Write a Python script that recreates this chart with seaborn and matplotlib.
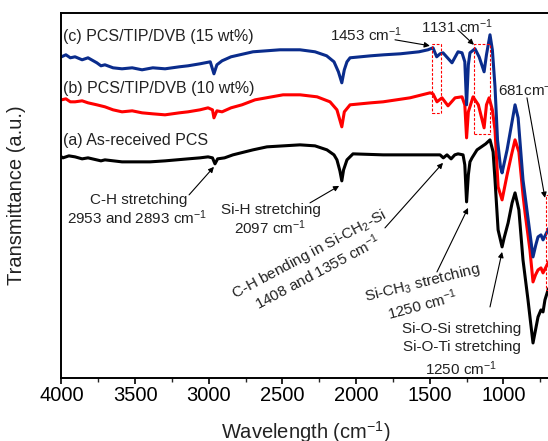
import numpy as np
import pandas as pd
import matplotlib
matplotlib.use("Agg")
import matplotlib.pyplot as plt
import seaborn as sns
from matplotlib.patches import Rectangle
from matplotlib.ticker import MultipleLocator

sns.set_style("ticks")
plt.rcParams['font.family'] = ['Liberation Sans', 'DejaVu Sans']
plt.rcParams['mathtext.fontset'] = 'custom'
plt.rcParams['mathtext.rm'] = 'Liberation Sans'
plt.rcParams['mathtext.it'] = 'Liberation Sans'

# (a) As-received PCS
wn_a = [4000, 3990, 3950, 3908, 3860, 3820, 3732, 3705, 3589, 3481, 3399, 3297, 3141, 3060, 3005,
        2975, 2958, 2940, 2893, 2836, 2700, 2605, 2381, 2279, 2198, 2150, 2130, 2110, 2097, 2085,
        2062, 2021, 1817, 1587, 1430, 1408, 1383, 1355, 1330, 1308, 1274, 1262, 1250, 1238, 1227,
        1213, 1179, 1120, 1091, 1070, 1057, 1036, 1009, 995, 968, 941, 921, 895, 867, 833, 815,
        799, 782, 765, 745, 731, 718, 697, 680]
tr_a = [44.2, 44.0, 44.4, 44.2, 43.8, 44.0, 43.4, 43.6, 43.2, 43.2, 43.2, 43.4, 43.8, 44.0, 44.2,
        44.0, 42.8, 43.8, 44.0, 44.6, 45.6, 46.2, 46.6, 46.4, 45.6, 44.6, 43.6, 41.4, 39.4, 41.6,
        43.6, 44.8, 44.6, 44.6, 44.6, 44.0, 44.6, 43.8, 44.6, 44.8, 44.6, 42.6, 35.2, 40.6, 43.2,
        44.0, 45.6, 46.8, 47.6, 45.2, 39.6, 29.6, 26.2, 28.0, 31.0, 35.0, 37.0, 33.6, 23.6, 15.6, 11.0,
        7.0, 9.6, 12.2, 13.6, 13.2, 15.6, 17.6, 18.6]

# (b) PCS/TIP/DVB (10 wt%)
wn_b = [4000, 3970, 3940, 3908, 3860, 3820, 3760, 3705, 3650, 3589, 3520, 3453, 3380, 3297, 3200,
        3141, 3060, 3005, 2975, 2965, 2945, 2910, 2849, 2775, 2686, 2496, 2380, 2265, 2177, 2130,
        2097, 2080, 2041, 1900, 1817, 1634, 1498, 1478, 1451, 1417, 1376, 1328, 1281, 1262, 1250,
        1238, 1206, 1170, 1131, 1115, 1097, 1075, 1057, 1036, 1009, 975, 945, 921, 895, 867, 853,
        820, 799, 782, 765, 745, 731, 697, 680]
tr_b = [55.6, 55.8, 55.2, 55.2, 55.4, 55.0, 54.6, 54.2, 53.6, 53.2, 53.4, 53.0, 52.8, 52.6, 53.0,
        53.2, 53.6, 54.0, 53.6, 52.0, 53.4, 53.2, 54.0, 54.6, 55.6, 56.6, 56.6, 56.2, 55.2, 53.6,
        50.2, 53.2, 54.6, 55.0, 55.2, 56.0, 57.0, 56.8, 55.2, 56.0, 54.4, 56.0, 56.2, 54.6, 48.0,
        53.2, 56.2, 54.6, 50.0, 54.6, 56.0, 53.6, 49.6, 38.2, 35.6, 40.6, 44.6, 47.6, 45.2, 36.6, 33.0,
        25.6, 19.2, 20.6, 21.6, 22.0, 21.0, 23.0, 24.0]

# (c) PCS/TIP/DVB (15 wt%)
wn_c = [4000, 3970, 3940, 3908, 3860, 3820, 3760, 3732, 3705, 3650, 3589, 3520, 3453, 3380, 3297,
        3200, 3141, 3060, 2990, 2965, 2945, 2910, 2849, 2700, 2517, 2381, 2279, 2200, 2150, 2120,
        2097, 2080, 2062, 2041, 1900, 1811, 1700, 1573, 1512, 1478, 1453, 1430, 1410, 1349, 1308,
        1281, 1262, 1250, 1238, 1227, 1193, 1165, 1131, 1115, 1091, 1075, 1057, 1040, 1020, 1009,
        975, 945, 921, 900, 867, 820, 799, 780, 765, 745, 731, 697, 680]
tr_c = [64.2, 64.6, 64.0, 64.2, 63.6, 64.0, 63.0, 62.4, 62.6, 62.0, 61.8, 62.0, 61.6, 62.0, 61.8,
        62.2, 62.4, 62.8, 63.2, 60.8, 62.6, 63.4, 64.2, 65.2, 65.6, 65.6, 65.2, 64.4, 63.2, 61.2,
        59.0, 61.6, 63.2, 64.0, 64.4, 64.6, 64.8, 65.2, 65.6, 66.0, 64.2, 64.8, 65.0, 63.0, 65.2,
        65.0, 63.2, 54.6, 62.6, 65.0, 65.8, 64.2, 61.2, 64.6, 68.6, 65.6, 58.2, 47.6, 42.2, 41.0,
        45.6, 50.6, 54.6, 52.0, 39.6, 29.0, 24.2, 26.6, 28.2, 28.6, 27.6, 29.6, 30.6]

series = [("(a)", wn_a, tr_a, "black"),
          ("(b)", wn_b, tr_b, "#ff0000"),
          ("(c)", wn_c, tr_c, "#0a2c8c")]

fig = plt.figure(figsize=(5.48, 4.41), dpi=100)
ax = fig.add_axes([0.1122, 0.1429, 0.9677, 0.8270])

for name, wn, tr, col in series:
    df = pd.DataFrame({"wn": wn, "tr": tr})
    sns.lineplot(data=df, x="wn", y="tr", color=col, lw=2.2, estimator=None,
                 ax=ax, zorder=3 if name == "(a)" else 2)

ax.set_xlim(4000, 400)
ax.set_ylim(0, 72.9)
ax.set_yticks([])
ax.xaxis.set_major_locator(MultipleLocator(500))
ax.xaxis.set_minor_locator(MultipleLocator(250))
ax.tick_params(axis='x', which='major', direction='out', length=4, width=1.2,
               labelsize=14.5, pad=2, colors='black')
ax.tick_params(axis='x', which='minor', direction='out', length=3, width=1.0)
for s in ax.spines.values():
    s.set_linewidth(1.4)
    s.set_color('black')

ax.set_xlabel("Wavelength (cm$^{-1}$)", fontsize=14.5, color='#222222')
ax.xaxis.set_label_coords(0.461, -0.112)
ax.set_ylabel("Transmittance (a.u.)", fontsize=14.5, color='#222222')
ax.yaxis.set_label_coords(-0.066, 0.5)

tc = '#222222'
fs = 11
ax.text(3990, 68.2, "(c) PCS/TIP/DVB (15 wt%)", fontsize=11.5, color=tc, va='center')
ax.text(3990, 57.8, "(b) PCS/TIP/DVB (10 wt%)", fontsize=11.5, color=tc, va='center')
ax.text(3990, 47.4, "(a) As-received PCS", fontsize=11.5, color=tc, va='center')

arw = dict(arrowstyle='-|>', color='black', lw=0.8, mutation_scale=8, shrinkA=0, shrinkB=0)

ax.text(2177, 68.6, "1453 cm$^{-1}$", fontsize=fs, color=tc, va='center', ha='left')
ax.annotate("", xy=(1499, 66.4), xytext=(1736, 67.6), arrowprops=arw)
ax.text(1559, 70.2, "1131 cm$^{-1}$", fontsize=fs, color=tc, va='center', ha='left')
ax.annotate("", xy=(1200, 66.6), xytext=(1309, 69.6), arrowprops=arw)

for x0, x1, y0, y1 in [(1485, 1424, 53.0, 66.8), (1200, 1091, 48.8, 66.8), (711, 640, 17.6, 36.6)]:
    ax.add_patch(Rectangle((x0, y0), x1 - x0, y1 - y0, fill=False, ec='#ff0000', lw=0.8,
                           ls=(0, (2.5, 1.5)), zorder=4))

ax.text(1040, 57.6, "681cm$^{-1}$", fontsize=fs, color=tc, va='center', ha='left')
ax.annotate("", xy=(718, 36.0), xytext=(840, 56.0), arrowprops=arw)

ax.text(3473, 35.6, "C-H stretching", fontsize=fs, color=tc, va='center', ha='center')
ax.text(3487, 32.0, "2953 and 2893 cm$^{-1}$", fontsize=fs, color=tc, va='center', ha='center')
ax.annotate("", xy=(2965, 42.2), xytext=(3134, 36.6), arrowprops=arw)

ax.text(2578, 33.6, "Si-H stretching", fontsize=fs, color=tc, va='center', ha='center')
ax.text(2585, 30.0, "2097 cm$^{-1}$", fontsize=fs, color=tc, va='center', ha='center')
ax.annotate("", xy=(2115, 38.4), xytext=(2313, 35.0), arrowprops=arw)

ax.text(2318, 24.6, "C-H bending in Si-CH$_2$-Si", fontsize=fs, color=tc, va='center',
        ha='center', rotation=28, rotation_mode='anchor')
ax.text(2260, 21.2, "1408 and 1355 cm$^{-1}$", fontsize=fs, color=tc, va='center',
        ha='center', rotation=28, rotation_mode='anchor')
ax.annotate("", xy=(1410, 43.0), xytext=(1804, 30.0), arrowprops=arw)

ax.text(1552, 19.0, "Si-CH$_3$ stretching", fontsize=fs, color=tc, va='center',
        ha='center', rotation=14, rotation_mode='anchor')
ax.text(1548, 14.6, "1250 cm$^{-1}$", fontsize=fs, color=tc, va='center',
        ha='center', rotation=15, rotation_mode='anchor')
ax.annotate("", xy=(1240, 34.0), xytext=(1451, 21.2), arrowprops=arw)

ax.text(1281, 9.8, "Si-O-Si stretching", fontsize=fs, color=tc, va='center', ha='center')
ax.text(1281, 6.2, "Si-O-Ti stretching", fontsize=fs, color=tc, va='center', ha='center')
ax.text(1285, 1.8, "1250 cm$^{-1}$", fontsize=fs, color=tc, va='center', ha='center')
ax.annotate("", xy=(1009, 25.2), xytext=(1091, 14.2), arrowprops=arw)

fig.savefig("out.png", dpi=100)
